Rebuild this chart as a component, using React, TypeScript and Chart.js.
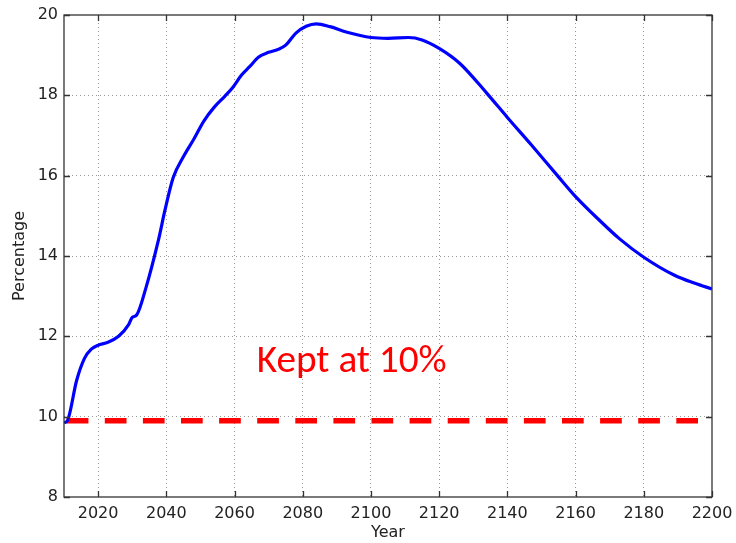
import React, { useEffect, useRef } from "react";
import { Chart, registerables } from "chart.js";

Chart.register(...registerables);

// ---- data ----
const years: number[] = [
  2010, 2011, 2013.7, 2016, 2018, 2020, 2022.5, 2026, 2029, 2030, 2031.3, 2034, 2037.7, 2039.6,
  2042, 2045, 2048, 2051, 2054, 2057.2, 2059.6, 2062, 2064.5, 2067, 2070, 2073, 2075, 2078,
  2081, 2084, 2088, 2093, 2100, 2105, 2111, 2115, 2120, 2126, 2134, 2140, 2147, 2155, 2160,
  2167, 2173, 2180, 2189, 2195, 2200,
];
const percentage: number[] = [
  9.85, 9.9, 10.9, 11.45, 11.68, 11.78, 11.84, 12.0, 12.3, 12.47, 12.53, 13.2, 14.4, 15.14,
  15.95, 16.47, 16.9, 17.36, 17.7, 17.98, 18.21, 18.5, 18.72, 18.95, 19.07, 19.15, 19.25, 19.55,
  19.72, 19.78, 19.71, 19.57, 19.44, 19.42, 19.44, 19.38, 19.17, 18.8, 18.05, 17.45, 16.77,
  15.97, 15.48, 14.89, 14.42, 13.97, 13.52, 13.32, 13.18,
];
const keptYears: number[] = [2010, 2200];
const keptLevel: number[] = [9.9, 9.9];
const xTicks: number[] = [2020, 2040, 2060, 2080, 2100, 2120, 2140, 2160, 2180, 2200];
const yTicks: number[] = [8, 10, 12, 14, 16, 18, 20];
const xTitle = "Year";
const yTitle = "Percentage";
const noteText = "Kept at 10%";
const noteYear = 2066.5;
const noteValue = 11.12;

const AXIS_FONT = "'DejaVu Sans', 'Liberation Sans', Arial, sans-serif";

const overlay = {
  id: "overlay",
  afterDraw(chart: any) {
    const { ctx, chartArea, scales } = chart;
    const { left, top, right, bottom } = chartArea;
    const x = scales.x;
    const y = scales.y;
    ctx.save();
    ctx.strokeStyle = "#333333";
    ctx.lineWidth = 1.3;
    ctx.strokeRect(left, top, right - left, bottom - top);
    ctx.beginPath();
    const tl = 6;
    for (const v of xTicks) {
      const px = Math.round(x.getPixelForValue(v)) + 0.5;
      ctx.moveTo(px, bottom);
      ctx.lineTo(px, bottom - tl);
      ctx.moveTo(px, top);
      ctx.lineTo(px, top + tl);
    }
    for (const v of yTicks) {
      const py = Math.round(y.getPixelForValue(v)) + 0.5;
      ctx.moveTo(left, py);
      ctx.lineTo(left + tl, py);
      ctx.moveTo(right, py);
      ctx.lineTo(right - tl, py);
    }
    ctx.stroke();
    ctx.fillStyle = "#222222";
    ctx.font = `16px ${AXIS_FONT}`;
    ctx.textAlign = "center";
    ctx.textBaseline = "middle";
    ctx.fillText(xTitle, (left + right) / 2, 533);
    ctx.save();
    ctx.translate(20, (top + bottom) / 2);
    ctx.rotate(-Math.PI / 2);
    ctx.fillText(yTitle, 0, 0);
    ctx.restore();
    const fam = "Carlito, Calibri, Lato, 'Open Sans', sans-serif";
    ctx.font = `40px ${fam}`;
    const w = ctx.measureText(noteText).width;
    const size = Math.min(42, (40 * 190) / w);
    ctx.font = `${size}px ${fam}`;
    ctx.fillStyle = "#ff0000";
    ctx.textAlign = "left";
    ctx.textBaseline = "alphabetic";
    ctx.fillText(noteText, x.getPixelForValue(noteYear), y.getPixelForValue(noteValue));
    ctx.restore();
  },
};

export default function App() {
  const ref = useRef<HTMLCanvasElement | null>(null);
  useEffect(() => {
    if (!ref.current) return;
    const gridColor = (c: any) => {
      const v = c.tick?.value;
      const sc = c.scale;
      if (v === sc.min || v === sc.max) return "rgba(0,0,0,0)";
      return "#9a9a9a";
    };
    const chart = new Chart(ref.current, {
      type: "line",
      data: {
        datasets: [
          {
            label: "Percentage",
            data: years.map((yr, i) => ({ x: yr, y: percentage[i] })),
            borderColor: "#0000ff",
            borderWidth: 3.2,
            pointRadius: 0,
            cubicInterpolationMode: "monotone",
            fill: false,
            order: 0,
          },
          {
            label: "Kept at 10%",
            data: keptYears.map((yr, i) => ({ x: yr, y: keptLevel[i] })),
            borderColor: "#ff0000",
            borderWidth: 5.5,
            borderDash: [21.7, 16.4],
            borderDashOffset: 35.4,
            borderCapStyle: "butt",
            pointRadius: 0,
            fill: false,
            order: 1,
          },
        ],
      },
      options: {
        animation: false,
        responsive: false,
        devicePixelRatio: 1,
        layout: { padding: { left: 0, top: 15, right: 24, bottom: 0 } },
        plugins: { legend: { display: false }, tooltip: { enabled: false }, title: { display: false } },
        scales: {
          x: {
            type: "linear",
            min: 2010,
            max: 2200,
            afterBuildTicks: (s: any) => {
              s.ticks = xTicks.map((v) => ({ value: v }));
            },
            afterFit: (s: any) => {
              s.height = 46;
              s.paddingLeft = 0;
              s.paddingRight = 0;
            },
            grid: { color: gridColor, drawTicks: false, lineWidth: 1 },
            border: { display: false, dash: [1, 3] },
            ticks: {
              padding: 7,
              maxRotation: 0,
              autoSkip: false,
              color: "#222222",
              font: { family: AXIS_FONT, size: 16 },
              callback: (v: any) => String(v),
            },
          },
          y: {
            type: "linear",
            min: 8,
            max: 20,
            afterBuildTicks: (s: any) => {
              s.ticks = yTicks.map((v) => ({ value: v }));
            },
            afterFit: (s: any) => {
              s.width = 64;
              s.paddingTop = 0;
              s.paddingBottom = 0;
            },
            grid: { color: gridColor, drawTicks: false, lineWidth: 1 },
            border: { display: false, dash: [1, 3] },
            ticks: {
              padding: 6,
              autoSkip: false,
              color: "#222222",
              font: { family: AXIS_FONT, size: 16 },
              callback: (v: any) => String(v),
            },
          },
        },
      },
      plugins: [overlay],
    } as any);
    return () => chart.destroy();
  }, []);
  return (
    <div style={{ position: "fixed", left: 0, top: 0, width: 736, height: 543, background: "#ffffff" }}>
      <canvas ref={ref} width={736} height={543} style={{ display: "block" }} />
    </div>
  );
}
